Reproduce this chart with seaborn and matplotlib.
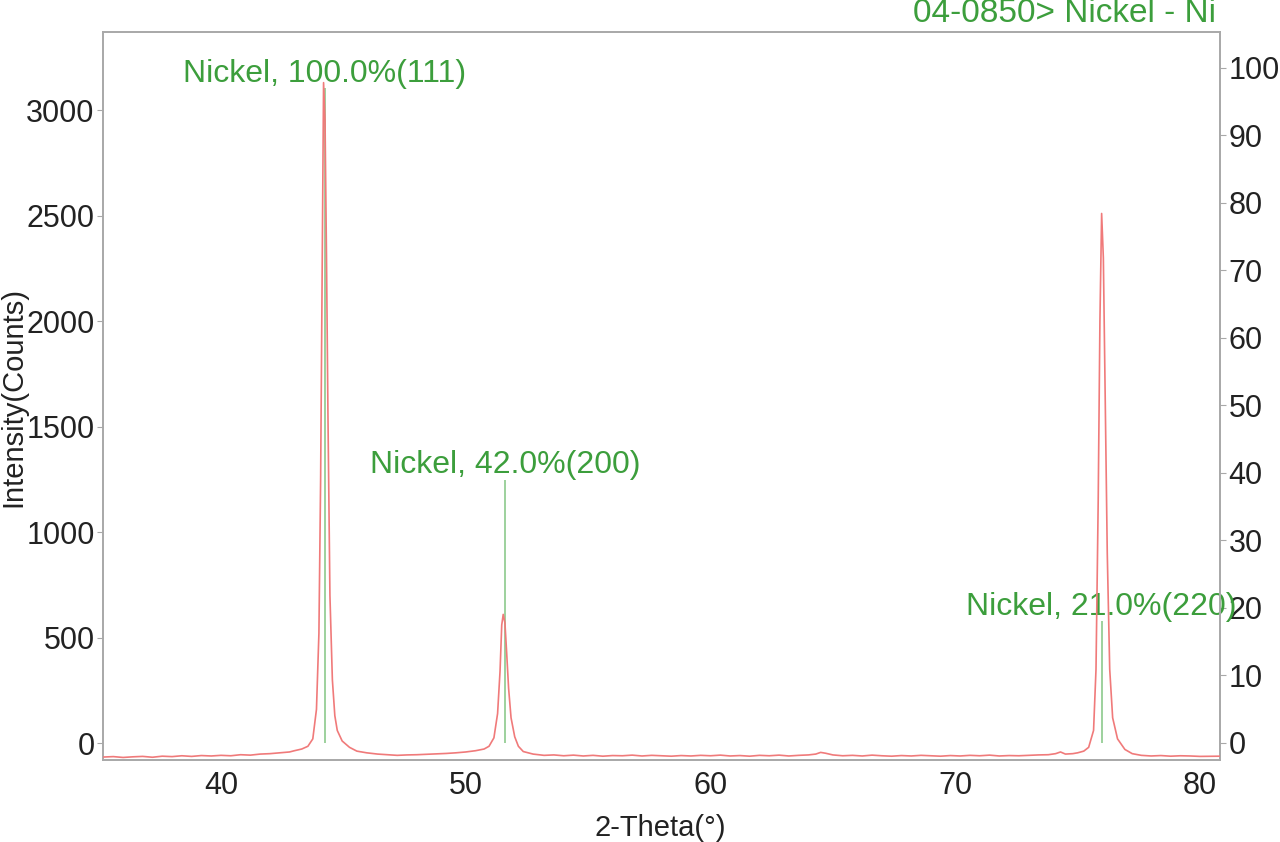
import numpy as np
import pandas as pd
import matplotlib
matplotlib.use("Agg")
import matplotlib.pyplot as plt
import seaborn as sns

# ---- data ----
two_theta = [35.2, 35.6, 36.0, 36.4, 36.8, 37.2, 37.6, 38.0, 38.4, 38.8, 39.2, 39.6,
             40.0, 40.4, 40.8, 41.2, 41.6, 42.0, 42.4, 42.8, 43.0, 43.3, 43.55, 43.75,
             43.9, 44.0, 44.07, 44.13, 44.19, 44.25, 44.31, 44.37, 44.45, 44.55, 44.65,
             44.75, 44.95, 45.25, 45.55, 45.95, 46.4, 46.8, 47.2, 47.6, 48.0, 48.4, 48.8,
             49.2, 49.6, 50.0, 50.4, 50.75, 50.95, 51.15, 51.3, 51.4, 51.47, 51.53,
             51.6, 51.67, 51.75, 51.85, 52.0, 52.15, 52.35, 52.75, 53.2, 53.6, 54.0,
             54.4, 54.8, 55.2, 55.6, 56.0, 56.4, 56.8, 57.2, 57.6, 58.0, 58.4, 58.8,
             59.2, 59.6, 60.0, 60.4, 60.8, 61.2, 61.6, 62.0, 62.4, 62.8, 63.2, 63.6,
             64.0, 64.3, 64.5, 64.7, 65.0, 65.4, 65.8, 66.2, 66.6, 67.0, 67.4, 67.8,
             68.2, 68.6, 69.0, 69.4, 69.8, 70.2, 70.6, 71.0, 71.4, 71.8, 72.2, 72.6,
             73.0, 73.4, 73.8, 74.1, 74.3, 74.5, 74.8, 75.0, 75.25, 75.45, 75.65, 75.75,
             75.84, 75.91, 75.98, 76.05, 76.13, 76.21, 76.31, 76.43, 76.63, 76.93, 77.23,
             77.6, 78.0, 78.4, 78.8, 79.2, 79.6, 80.0, 80.8]
intensity = [-66, -64, -68, -65, -63, -67, -62, -64, -60, -63, -59, -61,
             -58, -60, -55, -57, -52, -50, -46, -42, -36, -28, -15, 20,
             160, 520, 1250, 2200, 3130, 2950, 2300, 1550, 700, 300, 130,
             60, 10, -20, -38, -46, -52, -55, -58, -56, -55, -53, -51,
             -49, -46, -42, -36, -28, -15, 25, 140, 340, 560, 610,
             570, 430, 260, 120, 30, -15, -40, -52, -58, -56, -60,
             -57, -61, -58, -62, -59, -60, -57, -61, -58, -60, -62, -59,
             -61, -58, -60, -57, -61, -59, -62, -58, -60, -57, -61, -58,
             -56, -52, -44, -48, -56, -60, -58, -61, -57, -60, -62, -59,
             -61, -58, -60, -62, -59, -61, -58, -60, -57, -61, -59, -60,
             -58, -56, -55, -50, -42, -52, -50, -46, -38, -20, 60, 350,
             1150, 2000, 2510, 2300, 1600, 900, 350, 120, 20, -30, -50,
             -58, -61, -59, -62, -60, -61, -63, -62]

ref_pos = [44.25, 51.60, 75.98]
ref_pct = [100.0, 42.0, 21.0]
ref_labels = ["Nickel, 100.0%(111)", "Nickel, 42.0%(200)", "Nickel, 21.0%(220)"]
card_title = "04-0850> Nickel - Ni"

x_ticks = [40, 50, 60, 70, 80]
y_ticks = [0, 500, 1000, 1500, 2000, 2500, 3000]
pct_ticks = [0, 10, 20, 30, 40, 50, 60, 70, 80, 90, 100]

# ---- style ----
sns.set_style("white")
plt.rcParams["font.family"] = ["Liberation Sans", "DejaVu Sans"]

RED = "#f07a7a"
GREEN_LINE = "#8cc98c"
GREEN_TEXT = "#3c9e3c"
FRAME = "#a8a8a8"
TXT = "#222222"

fig = plt.figure(figsize=(12.8, 8.42), dpi=100)
ax = fig.add_axes([0.0805, 0.0974, 0.8727, 0.8646])

df = pd.DataFrame({"two_theta": two_theta, "intensity": intensity})
sns.lineplot(data=df, x="two_theta", y="intensity", ax=ax, color=RED,
             linewidth=1.2, zorder=3)

ax.set_xlim(35.18, 80.82)
ax.set_ylim(-80, 3370)
ax.set_xticks(x_ticks)
ax.set_yticks(y_ticks)
ax.set_xticks(np.arange(36, 81, 2), minor=True)
ax.tick_params(axis="x", which="major", direction="in", length=3, color=FRAME,
               labelsize=22, labelcolor=TXT, pad=8)
ax.tick_params(axis="x", which="minor", direction="in", length=3, color=FRAME)
ax.tick_params(axis="y", direction="out", length=4, color=FRAME,
               labelsize=22, labelcolor=TXT, pad=2, left=True)
ax.set_xlabel("2-Theta(°)", fontsize=21, color=TXT)
ax.set_ylabel("Intensity(Counts)", fontsize=21, color=TXT)
ax.xaxis.set_label_coords((660 - 103) / 1117, -(828 - 760) / 728)
ax.yaxis.set_label_coords((13 - 103) / 1117, (760 - 397) / 728)
ax.xaxis.label.set_va("center")
ax.yaxis.label.set_va("center")
for s in ax.spines.values():
    s.set_color(FRAME)
    s.set_linewidth(1.2)

ax2 = ax.twinx()
ax2.set_ylim(-2.52, 105.3)
ax2.set_yticks(pct_ticks)
ax2.tick_params(axis="y", direction="out", length=4, color=FRAME,
                labelsize=22, labelcolor=TXT, pad=2, right=True)
ax2.grid(False)
for s in ax2.spines.values():
    s.set_color(FRAME)
    s.set_linewidth(1.2)

ax2.vlines(ref_pos, 0, [p - 3 for p in ref_pct], color=GREEN_LINE,
           linewidth=1.2, zorder=2)
for xp, p, lab in zip(ref_pos, ref_pct, ref_labels):
    ax2.annotate(lab, xy=(xp, p), xytext=(0, -6), textcoords="offset pixels",
                 ha="center", va="center", fontsize=23, color=GREEN_TEXT,
                 zorder=1)
ax.set_zorder(ax2.get_zorder() + 1)
ax.patch.set_visible(False)

fig.text(0.950, 0.984, card_title, ha="right", va="center", fontsize=24,
         color=GREEN_TEXT)

fig.savefig("out.png", dpi=100)
